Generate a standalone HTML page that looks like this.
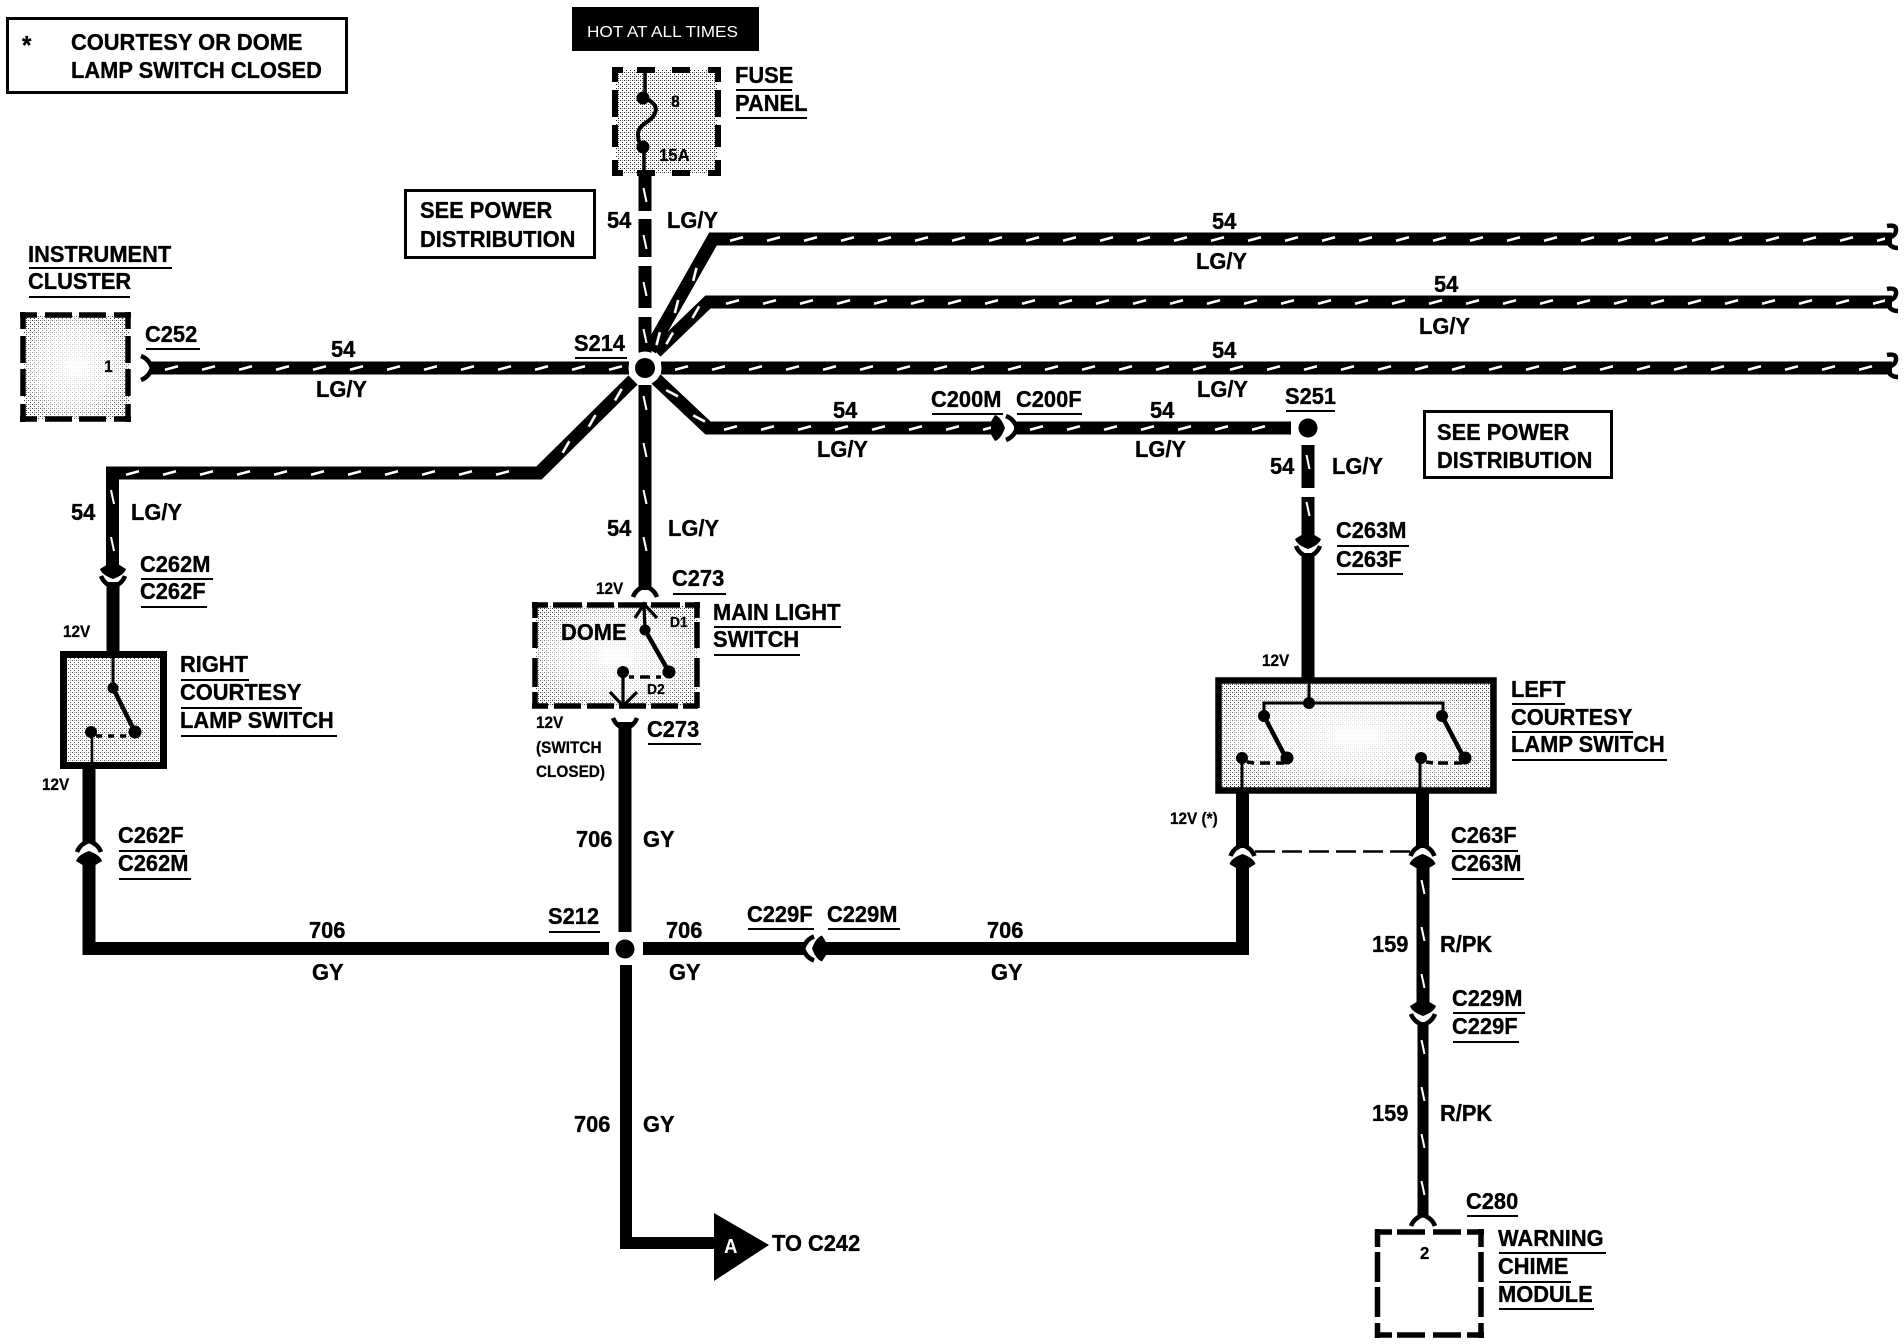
<!DOCTYPE html>
<html><head><meta charset="utf-8"><style>
html,body{margin:0;padding:0;background:#fff}
svg{display:block}
text{font-family:"Liberation Sans",sans-serif;font-weight:bold;font-size:23.5px;fill:#000;stroke:#000;stroke-width:.35px;transform-box:fill-box;transform-origin:0 50%;transform:translateX(-1px) scaleX(.93)}
.s{font-size:16.5px;stroke-width:.25px}
.x{font-size:15px;stroke-width:.25px}
.w{stroke:#000;stroke-width:13;fill:none;stroke-linejoin:miter}
.u{stroke:#000;stroke-width:2;fill:none}
.b{stroke:#000;fill:none}
</style></head><body>
<svg xmlns="http://www.w3.org/2000/svg" width="1904" height="1344" viewBox="0 0 1904 1344">
<defs>
<pattern id="d" x="0" y="-10" width="37" height="20" patternUnits="userSpaceOnUse"><line x1="10" y1="11.8" x2="23" y2="8.2" stroke="#fff" stroke-width="2.6"/></pattern>
<pattern id="v" x="0" y="-10" width="47" height="20" patternUnits="userSpaceOnUse"><line x1="10" y1="11.5" x2="24" y2="8.5" stroke="#fff" stroke-width="2"/></pattern>
<pattern id="st" width="4" height="4" patternUnits="userSpaceOnUse"><rect width="4" height="4" fill="#fff"/><rect x="0" y="0" width="1" height="1" fill="#222"/><rect x="2" y="2" width="1" height="1" fill="#222"/><rect x="2" y="0" width="1" height="1" fill="#888"/></pattern>
<radialGradient id="fade" cx="50%" cy="50%" r="62%"><stop offset="0%" stop-color="#fff" stop-opacity=".95"/><stop offset="55%" stop-color="#fff" stop-opacity=".7"/><stop offset="100%" stop-color="#fff" stop-opacity=".05"/></radialGradient>
<path id="m" d="M-13,-9 Q-11,-3 0,1 Q11,-3 13,-9 L6.5,-13 L-6.5,-13 Z"/>
<path id="f" d="M-12,-5 Q-9,3 0,6 M0,6 Q9,3 12,-5" fill="none" stroke="#000" stroke-width="4.5"/>
<path id="e" d="M-5,-6 Q5,-8 4,-1 Q3,4 -2,5 Q-4,11 -2,13 Q1,16 6,16" fill="none" stroke="#000" stroke-width="4.5"/>
</defs>

<!-- stipple fills -->
<rect x="616" y="70" width="102" height="103" fill="url(#st)"/>
<rect x="23" y="315" width="106" height="104" fill="url(#st)"/><rect x="23" y="315" width="106" height="104" fill="url(#fade)"/>
<rect x="64" y="655" width="99" height="110" fill="url(#st)"/><rect x="64" y="655" width="99" height="110" fill="#fff" opacity=".25"/>
<rect x="535" y="605" width="162" height="101" fill="url(#st)"/><rect x="535" y="605" width="162" height="101" fill="url(#fade)"/>
<rect x="1219" y="681" width="274" height="109" fill="url(#st)"/><rect x="1219" y="681" width="274" height="109" fill="url(#fade)"/>

<!-- note box -->
<rect x="7.5" y="18.5" width="339" height="74" class="b" stroke-width="3"/>
<text x="23" y="54" style="font-size:26px">*</text>
<text x="72" y="50">COURTESY OR DOME</text>
<text x="72" y="78">LAMP SWITCH CLOSED</text>

<!-- hot box -->
<rect x="572" y="7" width="187" height="44" fill="#000"/>
<text x="587" y="37" textLength="151" lengthAdjust="spacingAndGlyphs" style="font-size:16px;font-weight:normal;fill:#fff;stroke:none;transform:none">HOT AT ALL TIMES</text>

<!-- fuse panel -->
<g class="b" stroke-width="6">
<path d="M612,70 H721" stroke-dasharray="11 14 18 17 18 18 13"/>
<path d="M612,173 H721" stroke-dasharray="11 14 18 17 18 18 13"/>
<path d="M615,67 V176" stroke-dasharray="15 8 27 8 22 13 16"/>
<path d="M718,67 V176" stroke-dasharray="15 8 27 8 22 13 16"/>
</g>
<path d="M645,68 V98 M644,147 V178" class="b" stroke-width="3.5"/>
<path d="M642,98 C652,100 658,106 655,113 C652,122 638,124 638,134 C638,140 640,145 642,147" class="b" stroke-width="4"/>
<circle cx="643" cy="98" r="6.5"/><circle cx="643" cy="147" r="6.5"/>
<text class="x" x="672" y="107" style="font-size:17px">8</text>
<text class="x" x="660" y="161" style="font-size:18px">15A</text>
<text x="736" y="83">FUSE</text><path class="u" d="M736,90 H792"/>
<text x="736" y="111">PANEL</text><path class="u" d="M736,118 H807"/>

<!-- see power 1 -->
<rect x="405.5" y="190.5" width="189" height="67" class="b" stroke-width="3"/>
<text x="421" y="218">SEE POWER</text>
<text x="421" y="247">DISTRIBUTION</text>

<!-- instrument cluster -->
<text x="29" y="262">INSTRUMENT</text><path class="u" d="M29,268 H172"/>
<text x="29" y="289">CLUSTER</text><path class="u" d="M29,297 H130"/>
<g class="b" stroke-width="5.5">
<path d="M20,315 H131" stroke-dasharray="17 8 27 7 27 8 17"/>
<path d="M20,419 H131" stroke-dasharray="17 8 27 7 27 8 17"/>
<path d="M23,312 V422" stroke-dasharray="17 7 27 6 27 8 18"/>
<path d="M128,312 V422" stroke-dasharray="17 7 27 6 27 8 18"/>
</g>
<text class="x" x="105" y="372" style="font-size:17px">1</text>
<text x="146" y="342">C252</text><path class="u" d="M146,349 H200"/>

<!-- main wires -->
<g class="w">
<path d="M645,176 V211 M645,219 V257 M645,266 V308 M645,317 V353"/>
<path d="M645,385 V590"/>
<path d="M650,350 L713,239 H1892"/>
<path d="M656,352 L708,302 H1892"/>
<path d="M150,368 H629 M661,368 H1892"/>
<path d="M656,379 L708,428 H1000 M1014,428 H1291"/>
<path d="M633,380 L539,473 H112.5 V568"/>
<path d="M113,582 V652"/>
<path d="M89,767 V843"/>
<path d="M89,855 V948.5 H609"/>
<path d="M625,722 V932"/>
<path d="M643,948.5 H804"/>
<path d="M823,948.5 H1242.5 V857"/>
<path d="M626,965 V1243 H720" stroke-width="12"/>
<path d="M1308,445 V488 M1308,497 V540"/>
<path d="M1308,553 V678"/>
<path d="M1242.5,792 V848"/>
<path d="M1422.5,792 V848"/>
<path d="M1423,857 V1006" stroke-width="13"/>
<path d="M1423,1022 V1216" stroke-width="11"/>
</g>

<!-- white tracer dashes -->
<rect transform="translate(720,239)" y="-5" width="1165" height="10" fill="url(#d)"/>
<rect transform="translate(716,302)" y="-5" width="1169" height="10" fill="url(#d)"/>
<rect transform="translate(155,368)" y="-5" width="470" height="10" fill="url(#d)"/>
<rect transform="translate(665,368)" y="-5" width="1220" height="10" fill="url(#d)"/>
<rect transform="translate(714,428)" y="-5" width="282" height="10" fill="url(#d)"/>
<rect transform="translate(1020,428)" y="-5" width="265" height="10" fill="url(#d)"/>
<rect transform="translate(116,473)" y="-5" width="416" height="10" fill="url(#d)"/>
<rect transform="translate(650,353) rotate(-60.3)" y="-5" width="118" height="10" fill="url(#d)"/>
<rect transform="translate(658,350) rotate(-45)" y="-5" width="64" height="10" fill="url(#d)"/>
<rect transform="translate(660,382) rotate(43)" y="-5" width="60" height="10" fill="url(#d)"/>
<rect transform="translate(630,383) rotate(135)" y="-5" width="120" height="10" fill="url(#d)"/>
<rect transform="translate(645,178) rotate(90)" y="-5" width="178" height="10" fill="url(#v)"/>
<rect transform="translate(645,386) rotate(90)" y="-5" width="190" height="10" fill="url(#v)"/>
<rect transform="translate(112.5,480) rotate(90)" y="-5" width="82" height="10" fill="url(#v)"/>
<rect transform="translate(1308,445) rotate(90)" y="-5" width="85" height="10" fill="url(#v)"/>
<rect transform="translate(1423,870) rotate(90)" y="-5" width="135" height="10" fill="url(#v)"/>
<rect transform="translate(1423,1030) rotate(90)" y="-4" width="180" height="8" fill="url(#v)"/>
<rect x="636" y="211" width="18" height="8" fill="#fff"/>
<rect x="636" y="257" width="18" height="9" fill="#fff"/>
<rect x="636" y="308" width="18" height="9" fill="#fff"/>
<rect x="1298" y="488" width="20" height="9" fill="#fff"/>

<!-- wire ends -->
<use href="#e" x="1892" y="232"/>
<use href="#e" x="1892" y="295"/>
<use href="#e" x="1892" y="361"/>

<!-- S214 -->
<circle cx="645" cy="368" r="16.5" fill="#fff"/>
<circle cx="645" cy="368" r="10" fill="#000"/>
<text x="575" y="351">S214</text><path class="u" d="M575,358 H627"/>

<!-- wire labels -->
<text x="608" y="228">54</text><text x="668" y="228">LG/Y</text>
<text x="1213" y="229">54</text><text x="1197" y="269">LG/Y</text>
<text x="1435" y="292">54</text><text x="1420" y="334">LG/Y</text>
<text x="1213" y="358">54</text><text x="1198" y="397">LG/Y</text>
<text x="332" y="357">54</text><text x="317" y="397">LG/Y</text>
<text x="834" y="418">54</text><text x="818" y="457">LG/Y</text>
<text x="1151" y="418">54</text><text x="1136" y="457">LG/Y</text>
<text x="1271" y="474">54</text><text x="1333" y="474">LG/Y</text>
<text x="72" y="520">54</text><text x="132" y="520">LG/Y</text>
<text x="608" y="536">54</text><text x="669" y="536">LG/Y</text>

<!-- C200 -->
<text x="932" y="407">C200M</text><path class="u" d="M932,414 H1003"/>
<text x="1017" y="407">C200F</text><path class="u" d="M1017,414 H1082"/>
<use href="#m" transform="translate(1004,428) rotate(-90)"/>
<use href="#f" transform="translate(1011,428) rotate(-90)"/>

<!-- C252 -->
<use href="#f" transform="translate(146,368) rotate(-90)"/>

<!-- S251 -->
<text x="1286" y="404">S251</text><path class="u" d="M1286,411 H1335"/>
<circle cx="1308" cy="428" r="9.5"/>

<!-- see power 2 -->
<rect x="1424.5" y="411.5" width="187" height="66" class="b" stroke-width="3"/>
<text x="1438" y="440">SEE POWER</text>
<text x="1438" y="468">DISTRIBUTION</text>

<!-- C262 upper -->
<use href="#m" transform="translate(113,578)"/>
<use href="#f" transform="translate(113,581)"/>
<text x="141" y="572">C262M</text><path class="u" d="M141,579 H213"/>
<text x="141" y="599">C262F</text><path class="u" d="M141,607 H207"/>
<text class="s" x="64" y="637">12V</text>

<!-- right courtesy switch -->
<rect x="63.5" y="654.5" width="100" height="111" class="b" stroke-width="7"/>
<path d="M113,652 V688" class="b" stroke-width="3"/>
<path d="M113,688 L135,732" class="b" stroke-width="4.5"/>
<circle cx="113" cy="688" r="5.5"/><circle cx="135" cy="732" r="6.5"/><circle cx="91" cy="732" r="6"/>
<path d="M96,736 L128,736" class="b" stroke-width="3.5" stroke-dasharray="6 6"/>
<path d="M92,732 V767" class="b" stroke-width="2.5"/>
<text x="181" y="672">RIGHT</text><path class="u" d="M181,680 H249"/>
<text x="181" y="700">COURTESY</text><path class="u" d="M181,708 H302"/>
<text x="181" y="728">LAMP SWITCH</text><path class="u" d="M181,736 H337"/>
<text class="s" x="43" y="790">12V</text>

<!-- C262 lower -->
<use href="#f" transform="translate(89,847) rotate(180)"/>
<use href="#m" transform="translate(89,852) rotate(180)"/>
<text x="119" y="843">C262F</text><path class="u" d="M119,851 H185"/>
<text x="119" y="871">C262M</text><path class="u" d="M119,879 H191"/>

<!-- main light switch -->
<g class="b" stroke-width="5.5">
<path d="M532,605 H700" stroke-dasharray="16 5 29 5 27 4 29 4 29 5 15"/>
<path d="M532,706 H700" stroke-dasharray="16 6 27 6 27 5 27 5 27 5 15"/>
<path d="M535,602 V708" stroke-dasharray="16 4 26 10 29 5 17"/>
<path d="M697,602 V708" stroke-dasharray="16 4 26 10 29 5 17"/>
</g>
<use href="#f" transform="translate(645,592) rotate(180)"/>
<path d="M635,618 L644,604 L657,618 M644,604 L645,630" class="b" stroke-width="3.2"/>
<path d="M645,630 L669,672" class="b" stroke-width="4.5"/>
<circle cx="645" cy="630" r="5.5"/><circle cx="669" cy="672" r="6.5"/><circle cx="623" cy="672" r="6"/>
<path d="M629,677 L663,677" class="b" stroke-width="3.5" stroke-dasharray="5 6 10 6"/>
<path d="M623,672 V706 M610,692 L623,706 L637,692" class="b" stroke-width="3.2"/>
<text x="562" y="640">DOME</text>
<text class="x" x="671" y="627">D1</text>
<text class="x" x="648" y="694">D2</text>
<text class="s" x="597" y="594">12V</text>
<text x="673" y="586">C273</text><path class="u" d="M673,594 H726"/>
<text x="714" y="620">MAIN LIGHT</text><path class="u" d="M714,627 H841"/>
<text x="714" y="647">SWITCH</text><path class="u" d="M714,655 H800"/>

<!-- C273 lower -->
<use href="#f" transform="translate(625,723)"/>
<text x="648" y="737">C273</text><path class="u" d="M648,744 H701"/>
<text class="s" x="537" y="728">12V</text>
<text class="s" x="537" y="753">(SWITCH</text>
<text class="s" x="537" y="777">CLOSED)</text>
<text x="577" y="847">706</text><text x="644" y="847">GY</text>

<!-- S212 and bus -->
<circle cx="625" cy="949" r="9.5"/>
<text x="549" y="924">S212</text><path class="u" d="M549,932 H600"/>
<text x="310" y="938">706</text><text x="313" y="980">GY</text>
<text x="667" y="938">706</text><text x="670" y="980">GY</text>
<text x="988" y="938">706</text><text x="992" y="980">GY</text>
<text x="748" y="922">C229F</text><path class="u" d="M748,929 H814"/>
<text x="828" y="922">C229M</text><path class="u" d="M828,929 H900"/>
<use href="#m" transform="translate(813,948.5) rotate(90)"/>
<rect x="818" y="942" width="10" height="13"/>
<use href="#f" transform="translate(809,948.5) rotate(90)"/>

<!-- A off-sheet -->
<text x="575" y="1132">706</text><text x="644" y="1132">GY</text>
<path d="M714,1213 L769,1245 L714,1281 Z"/>
<text x="725" y="1253" style="font-size:20px;fill:#fff;stroke:none">A</text>
<text x="773" y="1251">TO C242</text>

<!-- C263 upper -->
<use href="#m" transform="translate(1308,548)"/>
<use href="#f" transform="translate(1308,551)"/>
<text x="1337" y="538">C263M</text><path class="u" d="M1337,546 H1409"/>
<text x="1337" y="567">C263F</text><path class="u" d="M1337,574 H1403"/>
<text class="s" x="1263" y="666">12V</text>

<!-- left courtesy switch -->
<rect x="1218.5" y="680.5" width="275" height="110" class="b" stroke-width="6.5"/>
<path d="M1309,678 V703 M1264,716 V703 H1443 V716" class="b" stroke-width="3"/>
<path d="M1264,716 L1286,758 M1442,716 L1464,758" class="b" stroke-width="4.5"/>
<circle cx="1309" cy="703" r="6"/><circle cx="1264" cy="716" r="6"/><circle cx="1442" cy="716" r="6"/>
<circle cx="1287" cy="758" r="6.5"/><circle cx="1465" cy="758" r="6.5"/><circle cx="1242" cy="758" r="6"/><circle cx="1421" cy="758" r="6"/>
<path d="M1247,762 L1254,763 M1260,763 H1270 M1276,763 H1284 M1426,762 L1433,763 M1438,763 H1448 M1454,763 H1462" class="b" stroke-width="3.5"/>
<path d="M1242,758 V790 M1420,758 V790" class="b" stroke-width="3"/>
<text x="1512" y="697">LEFT</text><path class="u" d="M1512,704 H1565"/>
<text x="1512" y="725">COURTESY</text><path class="u" d="M1512,732 H1633"/>
<text x="1512" y="752">LAMP SWITCH</text><path class="u" d="M1512,760 H1667"/>
<text class="s" x="1171" y="824">12V (*)</text>

<!-- C263 lower -->
<use href="#f" transform="translate(1242.5,851) rotate(180)"/>
<use href="#f" transform="translate(1422.5,851) rotate(180)"/>
<use href="#m" transform="translate(1242.5,855) rotate(180)"/>
<use href="#m" transform="translate(1422.5,855) rotate(180)"/>
<path d="M1255,851.5 H1413" class="b" stroke-width="2.5" stroke-dasharray="20 7"/>
<text x="1452" y="843">C263F</text><path class="u" d="M1452,851 H1518"/>
<text x="1452" y="871">C263M</text><path class="u" d="M1452,879 H1524"/>

<text x="1373" y="952">159</text><text x="1441" y="952">R/PK</text>

<!-- C229 vertical -->
<use href="#m" transform="translate(1423,1015)"/>
<use href="#f" transform="translate(1423,1019)"/>
<text x="1453" y="1006">C229M</text><path class="u" d="M1453,1013 H1525"/>
<text x="1453" y="1034">C229F</text><path class="u" d="M1453,1042 H1519"/>
<text x="1373" y="1121">159</text><text x="1441" y="1121">R/PK</text>

<!-- C280 module -->
<use href="#f" transform="translate(1423,1221) rotate(180)"/>
<text x="1467" y="1209">C280</text><path class="u" d="M1467,1216 H1518"/>
<g class="b" stroke-width="5.5">
<path d="M1375,1232 H1484" stroke-dasharray="17 5 28 8 28 6 17"/>
<path d="M1375,1335 H1484" stroke-dasharray="17 5 28 8 28 6 17"/>
<path d="M1377.5,1229 V1338" stroke-dasharray="18 5 30 5 30 6 15"/>
<path d="M1481,1229 V1338" stroke-dasharray="18 5 30 5 30 6 15"/>
</g>
<text class="x" x="1421" y="1259" style="font-size:18px">2</text>
<text x="1499" y="1246">WARNING</text><path class="u" d="M1499,1253 H1606"/>
<text x="1499" y="1274">CHIME</text><path class="u" d="M1499,1282 H1571"/>
<text x="1499" y="1302">MODULE</text><path class="u" d="M1499,1309 H1594"/>
</svg>
</body></html>
